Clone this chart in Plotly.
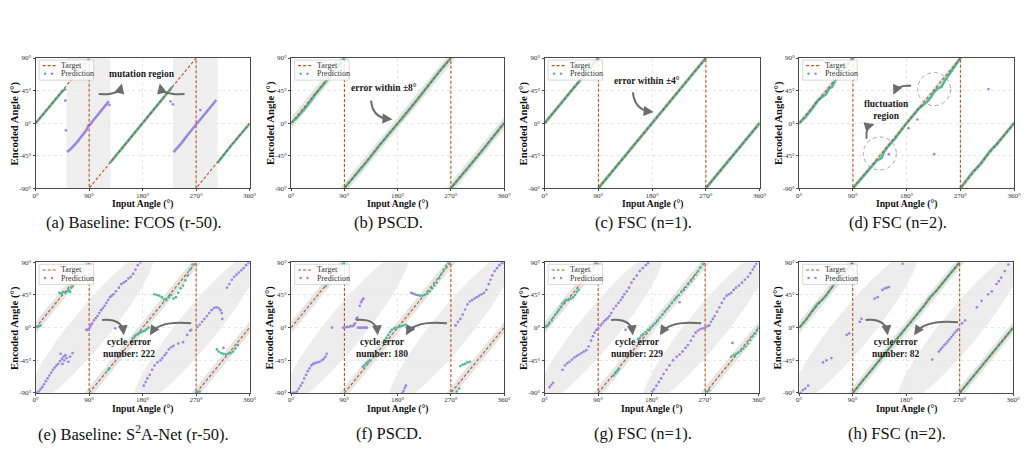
import math
import numpy as np
import plotly.graph_objects as go

W, H = 1034, 450

# ---------------- data ----------------
X_TICK_VALS = [0, 90, 180, 270, 360]
X_TICK_TEXT = ["0°", "90°", "180°", "270°", "360°"]
Y_TICK_VALS = [-90, -45, 0, 45, 90]
Y_TICK_TEXT = ["-90°", "-45°", "0°", "45°", "90°"]

TARGET_X = [0, 90, 90, 270, 270, 360]
TARGET_Y = [0, 90, -90, 90, -90, 0]

CAPTIONS = ["(a) Baseline: FCOS (r-50).", "(b) PSCD.", "(c) FSC (n=1).", "(d) FSC (n=2).",
            "(e) Baseline: S<sup>2</sup>A-Net (r-50).", "(f) PSCD.", "(g) FSC (n=1).", "(h) FSC (n=2)."]
X_TITLE = "Input Angle (°)"
Y_TITLE = "Encoded Angle (°)"

# (a) Baseline FCOS
A_GREEN_X = [0, 15, 30, 45, 51, None, 125, 150, 180, 205, 230, None, 306, 330, 360]
A_GREEN_Y = [0, 15, 29, 44, 48, None, -55, -30, 0, 25, 50, None, -55, -30, -1]
A_PURPLE_X = [53, 60, 70, 80, 86, 89, 92, 96, 105, 115, 123, None, 232, 245, 258, 270, 280, 292, 304]
A_PURPLE_Y = [-40, -35, -26, -15, -9, -3, -2, 3, 12, 22, 30, None, -40, -28, -14, -2, 8, 20, 32]
A_PURPLE_PTS_X = [50, 51, 124, 227, 231, 277]
A_PURPLE_PTS_Y = [31, -10, 25, 30, 26, 18]
A_MUTATION_X0 = [52, 231]
A_MUTATION_X1 = [126, 306]

# (b) PSCD
B_GREEN_X = [0, 10, 25, 40, 55, 70, 80, 90, None, 90, 110, 130, 150, 170, 190, 210, 230, 250, 270,
             None, 270, 290, 310, 330, 350, 360]
B_GREEN_Y = [0, 8, 22, 39, 54, 69, 80, 90, None, -90, -71, -51, -30, -11, 9, 29, 50, 71, 90,
             None, -90, -71, -51, -31, -10, 0]
B_BAND = 8

# (c) FSC n=1
C_GREEN_X = [0, 15, 30, 45, 60, 75, 90, None, 90, 110, 130, 150, 170, 190, 210, 230, 250, 270,
             None, 270, 290, 310, 330, 350, 360]
C_GREEN_Y = [0, 15, 30, 45, 60, 75, 90, None, -90, -70, -50, -30, -10, 10, 30, 50, 70, 90,
             None, -90, -70, -50, -30, -10, 0]
C_BAND = 4

# (d) FSC n=2
D_GREEN_X = [0, 10, 20, 30, 38, 45, 50, 55, 60, 70, 80, 90, None,
             90, 120, 130, 138, 142, 148, 160, 180, 200, 215, 220, 225, 232, 238, 245, 260, 270, None,
             270, 290, 300, 305, 320, 330, 340, 350, 360]
D_GREEN_Y = [0, 8, 18, 30, 36, 40, 48, 50, 58, 70, 80, 90, None,
             -90, -62, -52, -48, -40, -33, -22, 0, 20, 30, 35, 42, 48, 50, 60, 78, 90, None,
             -90, -68, -60, -55, -38, -30, -20, -10, 0]
D_PURPLE_PTS_X = [90, 270, 150, 183, 198, 226, 317]
D_PURPLE_PTS_Y = [90, 90, -43, -7, 5, -43, 47]
D_BAND = 4
D_CIRCLE_X = [135, 226]
D_CIRCLE_Y = [-42, 47]

# (e) Baseline S2A-Net
E_GREEN_X = [3, 6, 8, 40, 43, 46, 50, 53, 56, 58, 60, 62, 122, 124,
             163, 166, 169, 172, 175, 178, 181, 184, 187, 190,
             200, 204, 208, 212, 216, 220, 224, 228, 232, 236, 240, 244, 248, 252, 256, 260, 264,
             270, 273, 276, 305, 308, 312, 316, 320, 324, 328, 332, 336, 340]
E_GREEN_Y = [1, 2, 3, 48, 47, 49, 48, 50, 52, 49, 55, 57, -58, -56,
             -15, -12, -10, -9, -7, -6, -5, -4, -2, 0,
             46, 45, 44, 42, 39, 38, 42, 45, 40, 42, 48, 54, 58, 65, 72, 80, 87,
             -90, -89, -88, -30, -33, -35, -36, -37, -36, -35, -33, -29, -24]
E_PURPLE_X = [2, 5, 8, 11, 14, 17, 20, 23, 26, 29, 32, 35, 38, 41, 44, 47, 50,
              42, 48, 52, 55, 58, 62, 45,
              85, 87, 89, 91, 93, 95, 98, 101, 104, 107, 110, 113, 116, 119, 122, 125, 128, 131, 135,
              140, 144, 148, 152, 156, 160, 164, 168, 172, 176, 134,
              182, 185, 188, 192, 196, 200, 205, 210, 213, 217, 220, 224, 228, 232, 240, 248, 255, 260, 262,
              272, 276, 280, 284, 288, 292, 296, 300, 304, 308, 311, 313, 314, 316,
              322, 326, 330, 334, 338, 342, 346, 350, 354, 358]
E_PURPLE_Y = [-90, -88, -85, -82, -78, -74, -70, -66, -62, -58, -55, -52, -50, -46, -43, -40, -38,
              -36, -45, -42, -47, -40, -35, -50,
              -3, -3, -2, 0, 3, 6, 10, 13, 16, 20, 24, 27, 30, 34, 38, 42, 44, 46, 50,
              55, 60, 62, 64, 68, 70, 74, 80, 86, 90, -1,
              -80, -75, -70, -65, -58, -52, -48, -45, -42, -38, -35, -30, -27, -25, -22, -20, -10, -4, -3,
              1, 4, 8, 12, 16, 20, 24, 27, 28, 27, 24, 20, 12, -28,
              55, 60, 66, 70, 73, 76, 79, 82, 86, 89]

# (f) PSCD
F_GREEN_X = [58, 62, 66, 70, 74, 78, 82, 86, 89,
             121, 124, 127, 130, 133,
             158, 161, 164, 167, 170, 174, 178, 182, 186, 190, 194,
             214, 218, 222, 226, 230, 234, 238, 242, 246, 250, 254, 258, 262, 266,
             280, 284, 286, 290, 294, 298, 302]
F_GREEN_Y = [57, 60, 65, 70, 74, 78, 82, 87, 90,
             -54, -52, -49, -47, -45,
             -17, -14, -10, -6, -3, -1, 0, 1, 2, 3, 4,
             45, 44, 44, 45, 47, 50, 54, 58, 62, 68, 74, 80, 85, 89,
             -88, -84, -53, -51, -50, -48, -47]
F_PURPLE_X = [1, 4, 7, 10, 13, 16, 19, 22, 25, 28, 31, 34, 37, 40, 44, 48, 52, 55, 58, 60, 69,
              88, 91, 94, 97, 100, 103, 106, 108, 110, 112,
              113, 116, 119, 122, 125, 128, 116, 118, 120, 122,
              195, 198, 201, 204, 207, 203, 206, 209, 212, 188, 190, 192, 194,
              278, 282, 286, 290, 294, 298, 302, 306, 310, 314, 318, 322, 326, 330, 334, 337, 340, 344,
              348, 352, 356, 359]
F_PURPLE_Y = [-90, -90, -90, -88, -84, -80, -76, -70, -65, -60, -56, -52, -50, -49, -48, -47, -45, -43, -40,
              -36, 0,
              0, 0, 1, 1, 2, 2, 3, 6, 12, 14,
              0, 0, 0, 0, 0, 0, 30, 35, 38, 40,
              0, 0, 0, 0, 0, 48, 47, 46, 45, -90, -87, -83, -80,
              3, 8, 12, 18, 25, 32, 36, 38, 40, 42, 44, 46, 48, 52, 60, 66, 72, 78,
              82, 86, 89, 90]

# (g) FSC n=1
G_GREEN_X = [1, 3, 5, 8, 12, 15, 18, 21, 24, 27, 30, 33, 36, 40, 44, 48, 51, 54, 57, 82, 84, 86,
             116, 119, 122, 125,
             157, 160, 163, 166, 170, 174, 178, 182, 186, 190, 194, 198, 202, 206, 210, 214, 218, 222,
             226, 230, 234, 238, 242, 246, 250, 254, 258, 262, 266,
             274, 277, 314, 318, 322, 326, 330, 334, 338, 342, 346, 350, 354, 357, 360]
G_GREEN_Y = [1, 2, 3, 6, 10, 14, 18, 21, 25, 29, 33, 36, 38, 38, 40, 42, 45, 49, 52, 85, 87, 89,
             -66, -63, -60, -57,
             -16, -14, -11, -9, -6, -3, 0, 3, 6, 10, 14, 18, 22, 26, 30, 34, 38, 42,
             45, 49, 52, 56, 60, 64, 68, 73, 78, 83, 88,
             -88, -86, -40, -38, -36, -34, -32, -29, -26, -22, -17, -12, -8, -4, 0]
G_PURPLE_X = [8, 11, 14, 30, 34, 38, 42, 46, 50, 54, 58, 62, 66, 70, 74, 78, 81, 84, 87, 90, 94, 97,
              100, 103, 106, 109, 112, 116, 120, 124, 128, 131, 134, 138, 142, 146, 150, 155, 160, 165,
              170, 174, 136, 227, 316,
              181, 184, 188, 192, 196, 200, 205, 210, 216, 222, 227, 232, 237, 241, 246, 250, 254, 258,
              262, 266, 270, 274, 277, 280, 283, 286, 290, 294, 298, 302, 306, 310, 314, 318, 322, 327,
              332, 337, 342, 346, 350, 353, 356]
G_PURPLE_Y = [-82, -79, -76, -58, -52, -49, -47, -44, -41, -39, -37, -35, -33, -31, -26, -18, -12, -7,
              -3, -1, 3, 6, 9, 11, 13, 16, 20, 26, 30, 34, 38, 42, 46, 50, 55, 62, 67, 72, 78, 82,
              86, 89, -3, 35, -21,
              -88, -85, -80, -75, -70, -64, -58, -52, -45, -40, -37, -33, -28, -24, -18, -12, -7, -4,
              -2, -1, 0, 2, 3, 8, 12, 16, 22, 28, 34, 40, 44, 46, 48, 52, 55, 58,
              62, 66, 70, 75, 80, 84, 88]

# (h) FSC n=2
H_GREEN_X = [0, 10, 20, 30, 38, 45, 52, 60, 70, 80, 90, None,
             90, 100, 110, 120, 130, 140, 150, 160, 165, 170, 180, 190, 200, 210, 220, 225, 230, 240,
             250, 260, 270, None,
             270, 280, 290, 300, 310, 320, 330, 340, 350, 360]
H_GREEN_Y = [0, 9, 21, 32, 38, 44, 52, 61, 70, 80, 90, None,
             -90, -80, -70, -60, -50, -40, -30, -20, -15, -10, 0, 10, 20, 30, 42, 46, 50, 60,
             70, 80, 90, None,
             -90, -80, -70, -60, -49, -40, -30, -20, -10, 0]
H_PURPLE_X = [2, 6, 10, 15, 40, 46, 54, 80, 84, 102, 105, 127, 132, 140, 144, 148, 151, 174,
              224, 235, 238, 241, 244, 247, 250, 253, 256, 259, 262, 265, 268, 274, 279, 299, 307,
              318, 324, 332, 336, 340, 346, 352]
H_PURPLE_Y = [-90, -86, -84, -80, -48, -45, -42, -10, -8, 8, 12, 40, 42, 52, 54, 55, 56, 88,
              -44, -33, -30, -27, -24, -22, -19, -16, -13, -10, -7, -4, -2, 6, 10, 28, 37,
              46, 50, 60, 64, 69, 78, 87]

BOTTOM_BAND = 8
ELLIPSE_CX = [92, 272]
ELLIPSE_CY = [0, 0]

# ---------------- style / layout ----------------
GREEN = "#52b89a"
PURPLE = "#9d86e3"
TARGET_C = "#b3561f"
BAND_C = "#e4e4e4"
ELL_C = "#ededed"
ARROW_C = "#6c6c6c"
FRAME_C = "#4a4a4a"
SERIF = "Liberation Serif"
DASH = "3px,2px"

# plot boxes in pixels: left, right, top, bottom
BOXES = [(33, 249, 55, 187.5), (291, 506, 55, 187.5), (547, 764, 55, 187.5), (804, 1021, 55, 187.5),
         (33, 249, 263, 396), (291, 506, 263, 396), (547, 763, 263, 396), (804, 1020, 263, 396)]


def px(x):
    return x / W


def py(y):
    return 1 - y / H


fig = go.Figure()
layout = dict(width=W, height=H, margin=dict(l=0, r=0, t=0, b=0), paper_bgcolor="white",
              plot_bgcolor="white", showlegend=False)
shapes = []
annotations = []


def refs(n):
    return ("x" if n == 1 else f"x{n}"), ("y" if n == 1 else f"y{n}")


def add_line(n, xs, ys, color, width, dash=None):
    xr, yr = refs(n)
    line = dict(color=color, width=width)
    if dash:
        line["dash"] = dash
    fig.add_trace(go.Scatter(x=xs, y=ys, mode="lines", line=line,
                             xaxis=xr, yaxis=yr, hoverinfo="skip", connectgaps=False))


def add_target(n):
    add_line(n, TARGET_X, TARGET_Y, TARGET_C, 1.1, DASH)


def add_pts(n, xs, ys, color, size=2.7):
    xr, yr = refs(n)
    fig.add_trace(go.Scatter(x=xs, y=ys, mode="markers",
                             marker=dict(color=color, size=size, line=dict(width=0)),
                             xaxis=xr, yaxis=yr, hoverinfo="skip"))


def add_band(n, w):
    xr, yr = refs(n)
    for xs, xe, k in [(-20, 90, 0), (90, 270, 180), (270, 380, 360)]:
        a, b = xs - w, xe + w
        path = (f"M{a},{a - k - w} L{b},{b - k - w} L{b},{b - k + w} L{a},{a - k + w} Z")
        shapes.append(dict(type="path", path=path, xref=xr, yref=yr, fillcolor=BAND_C,
                           line=dict(width=0), layer="below"))


def add_ellipses(n):
    xr, yr = refs(n)
    L, R, T, B = BOXES[n - 1]
    sx = (R - L) / 360.0
    sy = (B - T) / 180.0
    ang = math.atan2(180 * sy, 180 * sx)
    t = np.linspace(0, 2 * np.pi, 90)
    a_px, b_px = 100.0, 19.0
    u = a_px * np.cos(t)
    v = b_px * np.sin(t)
    xp = u * math.cos(ang) - v * math.sin(ang)
    yp = u * math.sin(ang) + v * math.cos(ang)
    for cx, cy in zip(ELLIPSE_CX, ELLIPSE_CY):
        xs = cx + xp / sx
        ys = cy + yp / sy
        path = "M" + " L".join(f"{a:.2f},{b:.2f}" for a, b in zip(xs, ys)) + " Z"
        shapes.append(dict(type="path", path=path, xref=xr, yref=yr, fillcolor=ELL_C,
                           line=dict(width=0), layer="below"))


def curved_arrow(tail, ctrl, head):
    (x0, y0), (cx, cy), (x1, y1) = tail, ctrl, head
    dx, dy = cx - x1, cy - y1
    d = math.hypot(dx, dy)
    ex, ey = x1 + dx / d * 3, y1 + dy / d * 3
    path = f"M{px(x0)},{py(y0)} Q{px(cx)},{py(cy)} {px(ex)},{py(ey)}"
    shapes.append(dict(type="path", path=path, xref="paper", yref="paper",
                       line=dict(color=ARROW_C, width=2), layer="above"))
    annotations.append(dict(x=px(x1), y=py(y1), xref="paper", yref="paper", text=" ",
                            showarrow=True, ax=dx / d * 8, ay=dy / d * 8, arrowhead=2,
                            arrowsize=1.0, arrowwidth=2, arrowcolor=ARROW_C,
                            font=dict(size=1)))


def note(text, x, y, size=9.5):
    annotations.append(dict(x=px(x), y=py(y), xref="paper", yref="paper", text=f"<b>{text}</b>",
                            showarrow=False, xanchor="center", yanchor="middle",
                            font=dict(family=SERIF, size=size, color="#1a1a1a")))


for i, (L, R, T, B) in enumerate(BOXES):
    n = i + 1
    xr, yr = refs(n)
    xkey = "xaxis" if n == 1 else f"xaxis{n}"
    ykey = "yaxis" if n == 1 else f"yaxis{n}"
    common = dict(showline=True, mirror=True, linecolor=FRAME_C, linewidth=1, ticks="outside",
                  ticklen=2, tickwidth=0.8, tickcolor=FRAME_C, showgrid=True, gridcolor="#e8e8e8",
                  griddash="dot", gridwidth=0.8, zeroline=False, fixedrange=True,
                  tickfont=dict(family=SERIF, size=7, color="#333"))
    layout[xkey] = dict(domain=[L / W, R / W], range=[0, 360], tickvals=X_TICK_VALS,
                        ticktext=X_TICK_TEXT, anchor=yr, ticklabelstandoff=-2, **common)
    layout[ykey] = dict(domain=[1 - B / H, 1 - T / H], range=[-90, 90], tickvals=Y_TICK_VALS,
                        ticktext=Y_TICK_TEXT, anchor=xr, **common)
    # axis titles
    annotations.append(dict(x=px((L + R) / 2), y=py(B + 16.5), xref="paper", yref="paper",
                            text=f"<b>{X_TITLE}</b>", showarrow=False, xanchor="center",
                            yanchor="middle", font=dict(family=SERIF, size=9.6, color="#111")))
    annotations.append(dict(x=px(L - 21.5), y=py((T + B) / 2), xref="paper", yref="paper",
                            text=f"<b>{Y_TITLE}</b>", showarrow=False, xanchor="center",
                            yanchor="middle", textangle=-90,
                            font=dict(family=SERIF, size=10.8, color="#111")))
    # caption
    annotations.append(dict(x=px((L + R) / 2 - 9), y=py(B + 35 if n <= 4 else B + 41),
                            xref="paper", yref="paper", text=CAPTIONS[i], showarrow=False,
                            xanchor="center", yanchor="middle",
                            font=dict(family=SERIF, size=16.5, color="#111")))
    # legend box
    shapes.append(dict(type="rect", xref="paper", yref="paper", x0=px(L + 3.5), x1=px(L + 58.5),
                       y0=py(T + 22.5), y1=py(T + 2), line=dict(color="#cfcfcf", width=0.8),
                       fillcolor="rgba(255,255,255,0.85)", layer="above"))
    shapes.append(dict(type="line", xref="paper", yref="paper", x0=px(L + 7), x1=px(L + 20.5),
                       y0=py(T + 7.8), y1=py(T + 7.8),
                       line=dict(color=TARGET_C, width=1.2, dash=DASH), layer="above"))
    for cxp, col in [(L + 9.5, GREEN), (L + 16.5, PURPLE)]:
        shapes.append(dict(type="circle", xref="paper", yref="paper", x0=px(cxp - 1.3),
                           x1=px(cxp + 1.3), y0=py(T + 17.3), y1=py(T + 14.7), fillcolor=col,
                           line=dict(width=0), layer="above"))
    for txt, yy in [("Target", T + 7.8), ("Prediction", T + 16.2)]:
        annotations.append(dict(x=px(L + 24), y=py(yy), xref="paper", yref="paper", text=txt,
                                showarrow=False, xanchor="left", yanchor="middle",
                                font=dict(family=SERIF, size=8, color="#333")))

# panel (a)
for x0, x1 in zip(A_MUTATION_X0, A_MUTATION_X1):
    shapes.append(dict(type="rect", xref="x", yref="y", x0=x0, x1=x1, y0=-90, y1=90,
                       fillcolor="#efefef", line=dict(width=0), layer="below"))
add_line(1, A_GREEN_X, A_GREEN_Y, GREEN, 2.6)
add_line(1, A_PURPLE_X, A_PURPLE_Y, PURPLE, 2.6)
add_pts(1, A_PURPLE_PTS_X, A_PURPLE_PTS_Y, PURPLE)
add_target(1)

# panel (b)
add_band(2, B_BAND)
add_line(2, B_GREEN_X, B_GREEN_Y, GREEN, 2.6)
add_target(2)

# panel (c)
add_band(3, C_BAND)
add_line(3, C_GREEN_X, C_GREEN_Y, GREEN, 2.6)
add_target(3)

# panel (d)
add_band(4, D_BAND)
add_line(4, D_GREEN_X, D_GREEN_Y, GREEN, 2.6)
add_pts(4, D_PURPLE_PTS_X, D_PURPLE_PTS_Y, PURPLE)
add_target(4)
for cx, cy in zip(D_CIRCLE_X, D_CIRCLE_Y):
    shapes.append(dict(type="circle", xref="x4", yref="y4", xsizemode="pixel", ysizemode="pixel",
                       xanchor=cx, yanchor=cy, x0=-16.5, x1=16.5, y0=-16.5, y1=16.5,
                       line=dict(color="#a8a8a8", width=1, dash="4px,3px"), layer="above"))

# bottom row
for n, gx, gy, ppx, ppy in [(5, E_GREEN_X, E_GREEN_Y, E_PURPLE_X, E_PURPLE_Y),
                            (6, F_GREEN_X, F_GREEN_Y, F_PURPLE_X, F_PURPLE_Y),
                            (7, G_GREEN_X, G_GREEN_Y, G_PURPLE_X, G_PURPLE_Y)]:
    add_ellipses(n)
    add_band(n, BOTTOM_BAND)
    add_target(n)
    add_pts(n, ppx, ppy, PURPLE)
    add_pts(n, gx, gy, GREEN)

add_ellipses(8)
add_band(8, BOTTOM_BAND)
add_line(8, H_GREEN_X, H_GREEN_Y, GREEN, 2.4)
add_target(8)
add_pts(8, H_PURPLE_X, H_PURPLE_Y, PURPLE)

# text notes
note("mutation region", 140, 71.5)
note("error within ±8°", 385, 86)
note("error within ±4°", 650, 78)
note("fluctuation<br>region", 892, 108)
for cxn, num in [(127, 222), (383, 180), (640.5, 229), (901, 82)]:
    note(f"cycle error<br>number: {num}", cxn, 350.5)

# arrows (pixel positions)
ARROWS = [((96.7, 91.7), (117, 93), (120, 81)), ((183.3, 91.7), (161, 93), (158.3, 81)),
          ((371.7, 98.3), (373, 116), (393.3, 117.3)), ((636, 90), (638, 108), (657, 110)),
          ((917, 83.3), (904, 82), (899, 92.5)), ((872, 137), (871, 125), (880, 122.5)),
          ((100, 321.7), (120, 320), (122, 337.3)), ((190, 325), (158, 322), (148.3, 337.3)),
          ((356.7, 321.7), (377, 320), (378.3, 337.3)), ((448.3, 325), (416, 322), (406.7, 337.3)),
          ((614, 321.7), (634, 320), (636, 337.3)), ((705, 325), (673, 322), (663.3, 337.3)),
          ((871, 321.7), (891, 320), (893.3, 337.3)), ((964.3, 324), (931, 321), (920, 337.3))]
for tl, ct, hd in ARROWS:
    curved_arrow(tl, ct, hd)

layout["shapes"] = shapes
layout["annotations"] = annotations
fig.update_layout(**layout)
fig.write_html("out.html")
